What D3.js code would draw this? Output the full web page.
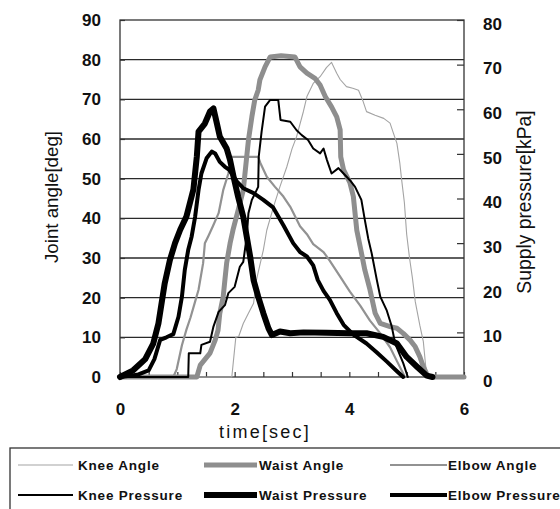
<!DOCTYPE html>
<html><head><meta charset="utf-8">
<script src="https://cdn.jsdelivr.net/npm/d3@7"></script>
<style>body{margin:0;background:#fff}svg{display:block}</style>
</head><body><svg id="c" width="560" height="509"></svg>
<script>
// ---- data (time [sec], value) ----
const xTickLabels = [0, 2, 4, 6];
const angleTicks = [0, 10, 20, 30, 40, 50, 60, 70, 80, 90];
const pressureTicks = [0, 10, 20, 30, 40, 50, 60, 70, 80];
const seriesNames = ["Knee Angle", "Waist Angle", "Elbow Angle", "Knee Pressure", "Waist Pressure", "Elbow Pressure"];

const kneeAngle = [[0,0],[1.95,0],[2.02,10],[2.07,10.2],[2.15,13.5],[2.24,16.1],[2.33,18.6],[2.38,24.5],[2.5,32],[2.56,37],[2.68,43],[2.79,48],[2.91,53],[3.0,57.5],[3.08,60.6],[3.2,67],[3.26,70.7],[3.37,74],[3.49,75.7],[3.6,78],[3.69,79.3],[3.78,76.6],[3.84,75],[3.95,73.2],[4.06,72.8],[4.16,72.3],[4.24,69.5],[4.3,66.9],[4.45,66],[4.6,65.2],[4.71,64],[4.77,61.4],[4.83,58.9],[4.88,54],[4.91,50],[4.96,44],[5.0,36],[5.05,30],[5.1,25],[5.15,19],[5.23,13],[5.29,9],[5.33,3],[5.36,0],[5.6,0]];
const waistAngle = [[0,0],[1.34,0],[1.4,3],[1.57,6],[1.66,9.3],[1.71,11.8],[1.74,16],[1.8,20.2],[1.83,24.5],[1.86,28.7],[1.92,33.7],[1.97,37],[2.06,42],[2.15,47.1],[2.21,55.5],[2.24,59.7],[2.3,65.6],[2.35,69.8],[2.41,72.3],[2.44,74.9],[2.53,78.2],[2.62,80.7],[2.81,81],[3.05,80.7],[3.14,78.2],[3.26,76.6],[3.4,75.3],[3.49,73.6],[3.58,70.7],[3.69,68.1],[3.78,65.6],[3.84,62.3],[3.85,55.5],[3.9,52.2],[4.01,49],[4.07,45.5],[4.13,37],[4.19,32.8],[4.27,27],[4.36,22],[4.45,16.1],[4.54,13.5],[4.71,12.7],[4.83,12.3],[4.94,11],[5.06,9.3],[5.15,7.6],[5.23,5.1],[5.29,2.6],[5.36,0.5],[5.46,0],[6,0]];
const elbowAngle = [[0,0],[0.93,0],[0.99,2],[1.08,8],[1.16,12],[1.23,15],[1.31,19],[1.37,22],[1.45,28.7],[1.48,33.7],[1.54,35.5],[1.62,38],[1.72,41.3],[1.8,47.1],[1.89,51.3],[1.95,55.5],[2.41,55.5],[2.45,53.9],[2.56,50.5],[2.7,48],[2.85,45.5],[2.97,42.9],[3.14,38],[3.26,36],[3.37,33.5],[3.55,31.5],[3.66,29.3],[3.84,25.3],[4.01,21.5],[4.19,18],[4.36,14.2],[4.54,11],[4.71,7.5],[4.83,4],[4.97,0]];
const kneePressure = [[0,0],[1.19,0],[1.2,5.3],[1.4,5.3],[1.42,7.2],[1.57,7.9],[1.63,11.3],[1.72,14.6],[1.83,16.1],[1.89,18.8],[2.0,20.2],[2.09,24.7],[2.15,25.8],[2.21,31.4],[2.24,36.7],[2.3,39.7],[2.41,42.6],[2.42,49.4],[2.47,55],[2.53,60.6],[2.62,62.1],[2.76,62.1],[2.8,57.6],[2.97,57.2],[3.08,55.3],[3.17,54.2],[3.28,53.1],[3.37,51.2],[3.49,50.1],[3.55,51.2],[3.61,48.6],[3.69,45.6],[3.81,46.8],[3.87,46],[4.01,44.1],[4.1,42.6],[4.21,39.7],[4.27,35.2],[4.33,31],[4.39,27.7],[4.48,21.7],[4.54,18],[4.65,15],[4.74,11.3],[4.8,7.5],[4.94,3.1],[5.02,0]];
const waistPressure = [[0,0],[0.23,1.5],[0.44,4],[0.58,7.5],[0.67,12],[0.78,21],[0.87,26.2],[0.96,30],[1.05,33],[1.16,36],[1.28,42],[1.34,49.4],[1.37,55],[1.48,56.8],[1.57,59.5],[1.63,60.2],[1.69,56.8],[1.74,53.9],[1.86,51.2],[1.92,48.6],[1.98,44.9],[2.06,40.4],[2.15,35.9],[2.21,31.5],[2.27,27],[2.33,21.7],[2.41,18],[2.5,14.3],[2.59,10.9],[2.65,9.4],[2.79,10.2],[2.97,9.8],[3.2,10],[3.6,9.9],[4.0,9.8],[4.3,9.8],[4.59,9.0],[4.83,7.5],[5.0,4.5],[5.18,2.3],[5.35,0.3],[5.45,0]];
const elbowPressure = [[0,0],[0.3,0.5],[0.5,1.5],[0.6,4],[0.7,8.3],[0.81,8.9],[0.93,9.6],[1.02,13.5],[1.08,18],[1.13,24],[1.19,28.5],[1.25,31.5],[1.31,35.9],[1.37,41.9],[1.42,45.6],[1.51,49],[1.6,50.5],[1.66,50.1],[1.74,48.2],[1.83,47.1],[1.9,46.5],[2.04,43.8],[2.15,42.3],[2.33,41.2],[2.5,39.7],[2.67,38],[2.85,34],[3.02,30],[3.14,28],[3.26,27],[3.37,25],[3.45,21.7],[3.55,19.3],[3.66,17.3],[3.78,14.3],[3.9,11.7],[4.07,9.5],[4.3,7.5],[4.48,5.5],[4.65,3.5],[4.83,1.3],[4.94,0]];

// ---- layout ----
const L = 120, R = 464, T = 20, B = 377;
const FONT = "'Liberation Sans', Arial, sans-serif";
const svg = d3.select('#c');

const x = d3.scaleLinear().domain([0, 6]).range([L, R]);
const yA = d3.scaleLinear().domain([0, 90]).range([B, T]);
const yP = d3.scaleLinear().domain([0, 80]).range([B, T]);

// gridlines
svg.append('g').selectAll('line').data(angleTicks.filter(d => d > 0 && d < 90)).join('line')
  .attr('x1', L).attr('x2', R).attr('y1', d => yA(d)).attr('y2', d => yA(d))
  .attr('stroke', '#2a2a2a').attr('stroke-width', 1.3);

// frame
svg.append('rect').attr('x', L).attr('y', T).attr('width', R - L).attr('height', B - T)
  .attr('fill', 'none').attr('stroke', '#333').attr('stroke-width', 1.3);

// axes
function styleAxis(g) {
  g.select('.domain').remove();
  g.selectAll('.tick line').attr('stroke', '#333').attr('stroke-width', 1.2);
  g.selectAll('.tick text').attr('fill', '#111').style('font-family', FONT)
    .style('font-size', '17px').style('font-weight', 'bold');
}
svg.append('g').attr('transform', `translate(${L},0)`)
  .call(d3.axisLeft(yA).tickValues(angleTicks).tickSize(-5).tickPadding(19).tickFormat(d3.format('d')))
  .call(styleAxis);
svg.append('g').attr('transform', `translate(${R},0)`)
  .call(d3.axisRight(yP).tickValues(pressureTicks).tickSize(-7).tickPadding(19).tickFormat(d3.format('d')))
  .call(styleAxis)
  .selectAll('.tick text').attr('dy', '0.55em');
svg.append('g').attr('transform', `translate(0,${B})`)
  .call(d3.axisBottom(x).tickValues(d3.range(0, 6.01, 0.5)).tickSize(-5).tickPadding(26)
    .tickFormat(d => xTickLabels.includes(d) ? d : ''))
  .call(styleAxis);

// axis titles
svg.append('text').attr('transform', `translate(58,197) rotate(-90)`)
  .attr('text-anchor', 'middle').style('font-family', FONT).style('font-size', '18.7px')
  .attr('fill', '#111').text('Joint angle[deg]');
svg.append('text').attr('transform', `translate(531,202) rotate(-90)`)
  .attr('text-anchor', 'middle').style('font-family', FONT).style('font-size', '19.3px')
  .attr('fill', '#111').text('Supply pressure[kPa]');
svg.append('text').attr('x', 265).attr('y', 438).attr('text-anchor', 'middle')
  .style('font-family', FONT).style('font-size', '18px').style('letter-spacing', '2.2px')
  .attr('fill', '#111').text('time[sec]');

// series
const styles = [
  { data: kneeAngle, y: yA, color: '#a4a4a4', w: 1.1 },
  { data: waistAngle, y: yA, color: '#8e8e8e', w: 5 },
  { data: elbowAngle, y: yA, color: '#929292', w: 2.2 },
  { data: kneePressure, y: yP, color: '#000', w: 2 },
  { data: waistPressure, y: yP, color: '#000', w: 6 },
  { data: elbowPressure, y: yP, color: '#000', w: 4 }
];
const drawOrder = [0, 2, 1, 3, 5, 4];
drawOrder.forEach(i => {
  const s = styles[i];
  const line = d3.line().x(d => x(d[0])).y(d => s.y(d[1]));
  svg.append('path').datum(s.data).attr('d', line)
    .attr('fill', 'none').attr('stroke', s.color).attr('stroke-width', s.w)
    .attr('stroke-linejoin', 'round').attr('stroke-linecap', 'round');
});

// legend
svg.append('rect').attr('x', 10).attr('y', 448).attr('width', 570).attr('height', 90)
  .attr('fill', 'none').attr('stroke', '#333').attr('stroke-width', 1.3);
const colX = [[18, 73, 78], [204, 257, 259], [390, 447, 448]];
const rowY = [465, 495];
seriesNames.forEach((name, i) => {
  const c = colX[i % 3], r = rowY[Math.floor(i / 3)], s = styles[i];
  svg.append('line').attr('x1', c[0]).attr('x2', c[1]).attr('y1', r).attr('y2', r)
    .attr('stroke', s.color).attr('stroke-width', s.w);
  svg.append('text').attr('x', c[2]).attr('y', r + 5).style('font-family', FONT)
    .style('font-size', '13.5px').style('font-weight', 'bold').style('letter-spacing', '0.8px')
    .attr('fill', '#111').text(name);
});
</script></body></html>
